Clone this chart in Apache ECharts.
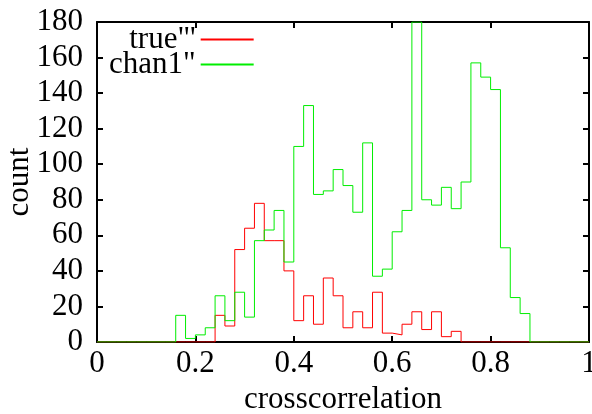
<!DOCTYPE html>
<html>
<head>
<meta charset="utf-8">
<script src="https://cdn.jsdelivr.net/npm/echarts@6/dist/echarts.min.js"></script>
<style>html,body{margin:0;padding:0;background:#fff}#c{width:592px;height:414px}</style>
</head>
<body>
<div id="c"></div>
<script>
// bin width and left edges (bins start at 0)
var binWidth = 0.02;
var seriesNames = ['true"\'', 'chan1"'];
var trueCounts = [0,0,0,0,0,0,0,0,0,0,0,0,15,9,52,64,78,57,57,40,12,26,10,36,26,8,17,8,28,5,4,10,17,7,17,3,6,0,0,0,0,0,0,0,0,0,0,0,0,0];
var chan1Counts = [0,0,0,0,0,0,0,0,15,2,4,8,26,12,28,14,57,63,74,45,110,133,83,85,97,88,73,112,37,41,62,74,180,80,77,87,75,90,157,149,142,53,25,16,0,0,0,0,0,0];
var xTicks = [0, 0.2, 0.4, 0.6, 0.8, 1];
var yTicks = [0, 20, 40, 60, 80, 100, 120, 140, 160, 180];

function toSteps(counts) {
  var pts = [];
  for (var i = 0; i < counts.length; i++) pts.push([+(i * binWidth).toFixed(4), counts[i]]);
  pts.push([+(counts.length * binWidth).toFixed(4), counts[counts.length - 1]]);
  return pts;
}

var font = 'Liberation Serif';
var chart = echarts.init(document.getElementById('c'), null, {renderer: 'canvas'});
var axisBase = {
  axisLine: {show: true, onZero: false, lineStyle: {color: '#000', width: 2}},
  axisTick: {show: true, inside: true, length: 6, lineStyle: {color: '#000', width: 2}},
  splitLine: {show: false}
};
chart.setOption({
  animation: false,
  backgroundColor: '#fff',
  grid: {left: 97, right: 3, top: 22, bottom: 72, containLabel: false, outerBoundsMode: 'none'},
  legend: {
    data: seriesNames,
    orient: 'vertical',
    align: 'right',
    left: 104,
    top: 19,
    itemWidth: 53,
    itemHeight: 2,
    itemGap: -6,
    icon: 'rect',
    textStyle: {fontFamily: font, fontSize: 31, color: '#000'}
  },
  xAxis: [
    Object.assign({}, axisBase, {
      type: 'value', min: xTicks[0], max: xTicks[xTicks.length - 1], interval: 0.2,
      position: 'bottom',
      name: 'crosscorrelation', nameLocation: 'middle', nameGap: 42, nameMoveOverlap: false,
      nameTextStyle: {fontFamily: font, fontSize: 31, color: '#000'},
      axisLabel: {fontFamily: font, fontSize: 31, color: '#000', margin: 6,
        formatter: function (v) { return String(+v.toFixed(1)); }}
    }),
    Object.assign({}, axisBase, {
      type: 'value', min: xTicks[0], max: xTicks[xTicks.length - 1], interval: 0.2,
      position: 'top', axisLabel: {show: false}
    })
  ],
  yAxis: [
    Object.assign({}, axisBase, {
      type: 'value', min: yTicks[0], max: yTicks[yTicks.length - 1], interval: 20,
      position: 'left',
      name: 'count', nameLocation: 'middle', nameGap: 62, nameMoveOverlap: false,
      nameTextStyle: {fontFamily: font, fontSize: 31, color: '#000'},
      axisLabel: {fontFamily: font, fontSize: 31, color: '#000', margin: 14}
    }),
    Object.assign({}, axisBase, {
      type: 'value', min: yTicks[0], max: yTicks[yTicks.length - 1], interval: 20,
      position: 'right', axisLabel: {show: false}
    })
  ],
  series: [
    {name: seriesNames[0], type: 'line', step: 'end', data: toSteps(trueCounts),
      showSymbol: false, color: '#ff0000', lineStyle: {color: '#ff0000', width: 1}, z: 2},
    {name: seriesNames[1], type: 'line', step: 'end', data: toSteps(chan1Counts),
      showSymbol: false, color: '#00ee00', lineStyle: {color: '#00ee00', width: 1}, z: 3}
  ]
});
</script>
</body>
</html>
